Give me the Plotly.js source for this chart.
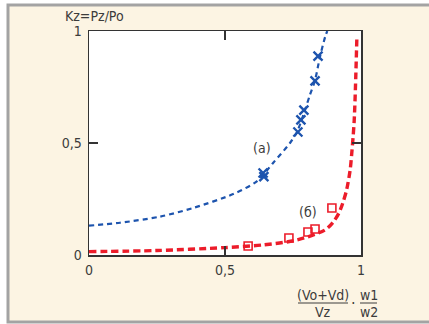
<!DOCTYPE html>
<html><head><meta charset="utf-8">
<script src="https://cdn.plot.ly/plotly-3.0.1.min.js"></script>
<style>html,body{margin:0;padding:0;background:#fff;}#chart{width:429px;height:324px;}</style>
</head><body><div id="chart"></div>
<script>
// Curve (a)
const curveA_x = [0, 0.114, 0.26, 0.383, 0.53, 0.618, 0.676, 0.739, 0.765, 0.794, 0.812, 0.831, 0.849, 0.868, 0.876];
const curveA_y = [0.131, 0.144, 0.171, 0.21, 0.272, 0.33, 0.41, 0.5, 0.55, 0.647, 0.714, 0.78, 0.884, 0.973, 1.0];
// Experimental points (a)
const pointsA_x = [0.842, 0.831, 0.79, 0.779, 0.768, 0.64, 0.643];
const pointsA_y = [0.888, 0.777, 0.647, 0.603, 0.549, 0.366, 0.35];
// Curve (б)
const curveB_x = [0, 0.25, 0.5, 0.64, 0.765, 0.868, 0.898, 0.919, 0.933, 0.947, 0.96, 0.966, 0.975, 0.985];
const curveB_y = [0.015, 0.02, 0.033, 0.045, 0.067, 0.112, 0.147, 0.188, 0.232, 0.29, 0.379, 0.454, 0.6, 0.98];
// Experimental points (б)
const pointsB_x = [0.893, 0.831, 0.805, 0.735, 0.585];
const pointsB_y = [0.21, 0.116, 0.103, 0.076, 0.04];
// Ticks
const tickVals = [0, 0.5, 1];
const tickText = ['0', '0,5', '1'];

const FONT = 'DejaVu Sans Condensed, Liberation Sans Narrow, sans-serif';
const TXT = '#3c3c3c';
const L = 89, R = 361, T = 31, B = 255;
const px = v => (v - L) / (R - L);
const py = v => (B - v) / (B - T);

const traces = [
  {x: curveA_x, y: curveA_y, mode: 'lines', line: {color: '#1d54ae', width: 2.2, dash: '5px,4px', shape: 'spline', smoothing: 0.8}, hoverinfo: 'skip'},
  {x: pointsA_x, y: pointsA_y, mode: 'markers', marker: {symbol: 'x-thin-open', size: 9, color: '#1d54ae', line: {color: '#1d54ae', width: 2.4}}},
  {x: curveB_x, y: curveB_y, mode: 'lines', line: {color: '#ec1c2a', width: 3.4, dash: '7px,4px', shape: 'spline', smoothing: 0.8}, hoverinfo: 'skip'},
  {x: pointsB_x, y: pointsB_y, mode: 'markers', marker: {symbol: 'square-open', size: 8, color: '#ec1c2a', line: {color: '#ec1c2a', width: 1.6}}}
];

const axisCommon = {
  range: [0, 1], tickvals: tickVals, ticktext: tickText, showgrid: false, zeroline: false,
  showline: true, linecolor: '#333', linewidth: 1.5, mirror: 'ticks', ticks: 'inside', ticklen: 9,
  tickcolor: '#333', tickwidth: 1.2, tickfont: {family: FONT, size: 14, color: TXT}, fixedrange: true
};

function ann(x, y, text, size) {
  return {xref: 'paper', yref: 'paper', x: px(x), y: py(y), text: text, showarrow: false,
    xanchor: 'center', yanchor: 'middle', font: {family: FONT, size: size || 14, color: TXT}};
}

const layout = {
  width: 429, height: 324,
  margin: {l: L, r: 429 - R, t: T, b: 324 - B, pad: 0},
  paper_bgcolor: '#ffffff', plot_bgcolor: '#ffffff', showlegend: false,
  xaxis: Object.assign({}, axisCommon, {ticklabelstandoff: 2}),
  yaxis: Object.assign({}, axisCommon, {ticklabelstandoff: 3}),
  shapes: [
    {type: 'rect', xref: 'paper', yref: 'paper', x0: px(8), x1: px(440), y0: py(5), y1: py(322), fillcolor: '#fcf4e3', line: {color: '#a3a3a3', width: 3}, layer: 'below'},
    {type: 'rect', xref: 'paper', yref: 'paper', x0: 0, x1: 1, y0: 0, y1: 1, fillcolor: '#ffffff', line: {width: 0}, layer: 'below'},
    {type: 'line', xref: 'paper', yref: 'paper', x0: px(298), x1: px(348), y0: py(303), y1: py(303), line: {color: TXT, width: 1}},
    {type: 'line', xref: 'paper', yref: 'paper', x0: px(360), x1: px(377), y0: py(303), y1: py(303), line: {color: TXT, width: 1}}
  ],
  annotations: [
    ann(94, 16, 'Kz=Pz/Po'),
    {x: 0.636, y: 0.478, text: '(a)', showarrow: false, xanchor: 'center', yanchor: 'middle', font: {family: FONT, size: 14, color: TXT}},
    {x: 0.805, y: 0.192, text: '(б)', showarrow: false, xanchor: 'center', yanchor: 'middle', font: {family: FONT, size: 14, color: TXT}},
    ann(323, 295, '(Vo+Vd)'),
    ann(323, 312, 'Vz'),
    ann(353, 303, '·', 16),
    ann(368.5, 295, 'w1'),
    ann(368.5, 312, 'w2')
  ]
};

Plotly.newPlot('chart', traces, layout, {staticPlot: true, displayModeBar: false});
</script></body></html>
